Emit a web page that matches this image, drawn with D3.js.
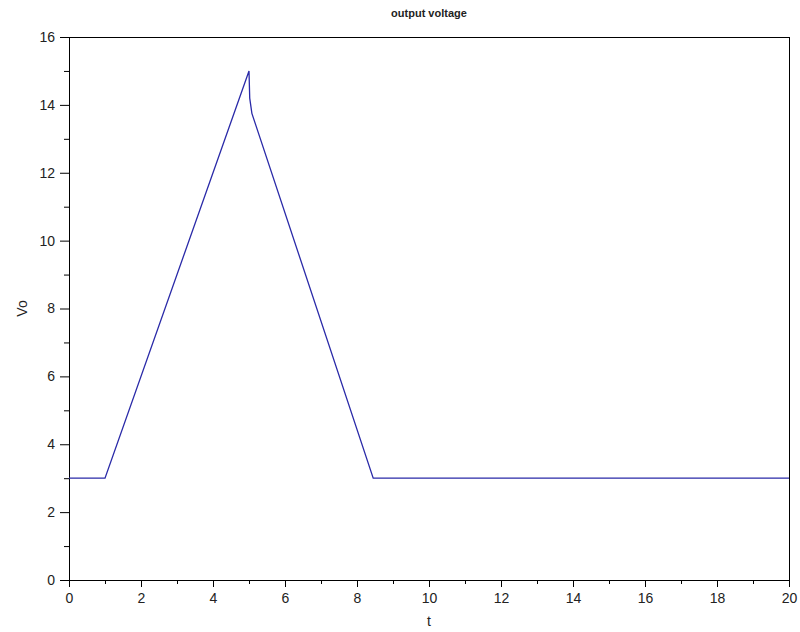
<!DOCTYPE html>
<html lang="en">
<head>
    <meta charset="UTF-8">
    <title>output voltage</title>
    <script src="https://cdnjs.cloudflare.com/ajax/libs/d3/7.8.5/d3.min.js"></script>
    <style>
        body { margin: 0; background: #fff; }
        text { font-family: "Liberation Sans", Arial, sans-serif; }
    </style>
</head>
<body>
    <div id="chart"></div>
    <script>
        // Values
        var tValues = [0, 1, 5, 5.02, 5.08, 8.45, 20];
        var voValues = [3, 3, 15, 14.2, 13.75, 3, 3];
        var xTicks = [0, 2, 4, 6, 8, 10, 12, 14, 16, 18, 20];
        var yTicks = [0, 2, 4, 6, 8, 10, 12, 14, 16];
        var xMinor = [1, 3, 5, 7, 9, 11, 13, 15, 17, 19];
        var yMinor = [1, 3, 5, 7, 9, 11, 13, 15];

        var w = 800, h = 632;
        // plot box edges (window.top is read-only, so no plain "top")
        var boxLeft = 69, boxRight = 789, boxTop = 37, boxBottom = 580;

        var svg = d3.select("#chart").append("svg")
            .attr("width", w)
            .attr("height", h);

        var x = d3.scaleLinear().domain([0, 20]).range([boxLeft, boxRight]);
        var y = d3.scaleLinear().domain([0, 16]).range([boxBottom, boxTop]);

        // frame lines on top and right
        svg.append("line")
            .attr("x1", boxLeft).attr("x2", boxRight)
            .attr("y1", boxTop + 0.5).attr("y2", boxTop + 0.5)
            .attr("stroke", "#000");
        svg.append("line")
            .attr("x1", boxRight + 0.5).attr("x2", boxRight + 0.5)
            .attr("y1", boxTop).attr("y2", boxBottom)
            .attr("stroke", "#000");

        // bottom axis
        svg.append("g")
            .attr("transform", "translate(0," + boxBottom + ")")
            .call(d3.axisBottom(x).tickValues(xTicks).tickSize(7).tickPadding(6).tickSizeOuter(0));
        svg.append("g")
            .attr("transform", "translate(0," + boxBottom + ")")
            .call(d3.axisBottom(x).tickValues(xMinor).tickSize(4).tickFormat("").tickSizeOuter(0))
            .select(".domain").remove();

        // left axis
        svg.append("g")
            .attr("transform", "translate(" + boxLeft + ",0)")
            .call(d3.axisLeft(y).tickValues(yTicks).tickSize(9).tickPadding(5).tickSizeOuter(0));
        svg.append("g")
            .attr("transform", "translate(" + boxLeft + ",0)")
            .call(d3.axisLeft(y).tickValues(yMinor).tickSize(5).tickFormat("").tickSizeOuter(0))
            .select(".domain").remove();

        svg.selectAll(".tick text")
            .attr("font-size", "14px")
            .attr("font-family", "Liberation Sans, Arial, sans-serif")
            .attr("fill", "#222");

        // the curve
        var points = tValues.map(function(t, i) { return [t, voValues[i]]; });
        var line = d3.line()
            .x(function(d) { return x(d[0]); })
            .y(function(d) { return y(d[1]); });
        svg.append("path")
            .datum(points)
            .attr("d", line)
            .attr("fill", "none")
            .attr("stroke", "#2a2aa8")
            .attr("stroke-width", 1.3);

        // labels
        svg.append("text")
            .attr("x", (boxLeft + boxRight) / 2)
            .attr("y", 17)
            .attr("text-anchor", "middle")
            .attr("font-size", "11px")
            .attr("font-weight", "bold")
            .attr("fill", "#222")
            .text("output voltage");

        svg.append("text")
            .attr("x", (boxLeft + boxRight) / 2)
            .attr("y", 626)
            .attr("text-anchor", "middle")
            .attr("font-size", "14px")
            .attr("fill", "#222")
            .text("t");

        svg.append("text")
            .attr("transform", "translate(27," + (boxTop + boxBottom) / 2 + ") rotate(-90)")
            .attr("text-anchor", "middle")
            .attr("font-size", "14px")
            .attr("fill", "#222")
            .text("Vo");
    </script>
</body>
</html>
